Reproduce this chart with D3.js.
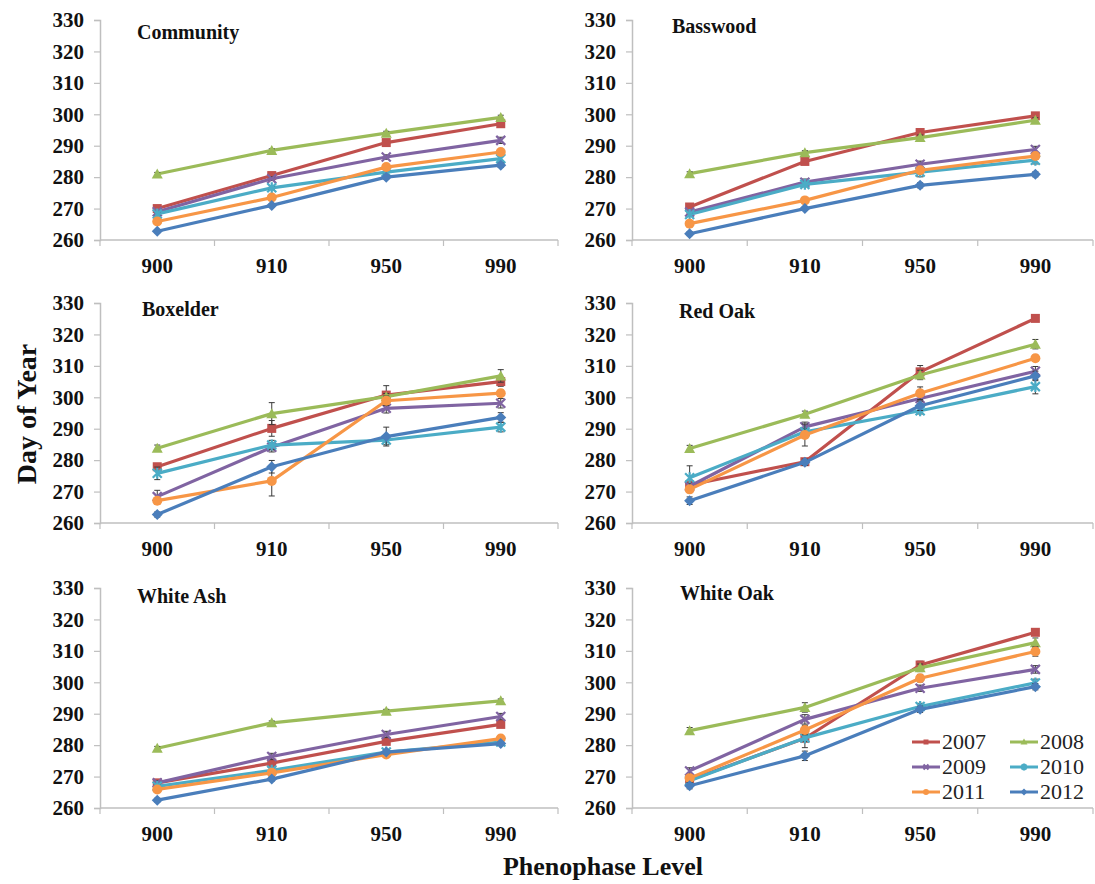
<!DOCTYPE html>
<html>
<head>
<meta charset="utf-8">
<script src="https://cdn.jsdelivr.net/npm/d3@7"></script>
<style>
  html, body { margin: 0; padding: 0; background: #fff; }
</style>
</head>
<body>
<svg id="chart" width="1095" height="884"></svg>
<script>
// Phenophase levels (x categories) and observation years (series)
const levels = ["900", "910", "950", "990"];
const years = ["2007", "2008", "2009", "2010", "2011", "2012"];
const yTicks = [260, 270, 280, 290, 300, 310, 320, 330];

// Mean day of year per year (rows follow `years`, columns follow `levels`)
const community = [
  [270.0, 280.5, 291.0, 297.0],
  [281.0, 288.5, 294.0, 299.0],
  [269.0, 279.5, 286.4, 291.7],
  [268.3, 276.6, 281.6, 285.9],
  [265.9, 273.5, 283.2, 288.0],
  [262.8, 271.0, 280.0, 283.8]
];
const basswood = [
  [270.5, 285.0, 294.2, 299.5],
  [281.1, 287.8, 292.6, 298.1],
  [268.9, 278.4, 284.1, 288.8],
  [268.1, 277.7, 281.6, 285.4],
  [265.2, 272.6, 282.2, 286.7],
  [262.0, 270.0, 277.4, 280.9]
];
const boxelder = [
  [277.9, 290.1, 300.7, 305.0],
  [283.8, 294.8, 300.2, 306.8],
  [268.4, 284.1, 296.5, 298.1],
  [275.8, 284.8, 286.4, 290.5],
  [267.1, 273.4, 298.9, 301.3],
  [262.7, 277.9, 287.5, 293.6]
];
const redOak = [
  [272.1, 279.5, 308.1, 325.1],
  [283.7, 294.6, 307.1, 316.9],
  [271.7, 290.6, 299.6, 308.3],
  [274.4, 289.0, 295.7, 303.4],
  [270.7, 288.0, 301.3, 312.4],
  [267.1, 279.3, 297.3, 306.8]
];
const whiteAsh = [
  [268.0, 274.3, 281.2, 286.6],
  [279.0, 287.1, 290.8, 294.1],
  [268.0, 276.4, 283.4, 289.1],
  [266.9, 272.0, 277.8, 281.0],
  [265.9, 271.2, 277.0, 282.1],
  [262.5, 269.2, 277.8, 280.5]
];
const whiteOak = [
  [268.9, 282.2, 305.5, 315.9],
  [284.6, 292.0, 304.6, 312.6],
  [271.8, 288.2, 298.1, 304.1],
  [268.7, 282.3, 292.3, 299.8],
  [269.5, 284.8, 301.3, 309.8],
  [267.1, 276.6, 291.4, 298.6]
];

// Standard errors (same layout as the means)
const communityErr = [
  [0.8, 0.6, 0.6, 0.8], [0.5, 0.5, 0.6, 0.7], [0.5, 0.6, 0.7, 1.0],
  [0.5, 0.6, 0.6, 0.8], [0.5, 0.6, 0.6, 0.8], [0.5, 0.5, 0.6, 0.7]
];
const basswoodErr = [
  [0.8, 0.8, 0.8, 0.8], [0.6, 0.6, 0.8, 0.8], [0.6, 1.0, 1.0, 1.0],
  [0.6, 0.8, 1.5, 1.2], [0.6, 0.8, 1.0, 1.0], [0.6, 0.6, 0.8, 0.8]
];
const boxelderErr = [
  [1.0, 2.5, 3.0, 1.5], [1.0, 3.5, 1.0, 2.0], [2.0, 1.5, 1.5, 1.5],
  [2.0, 1.5, 1.5, 1.5], [1.0, 4.8, 1.5, 1.0], [0.8, 2.0, 3.0, 1.5]
];
const redOakErr = [
  [1.0, 0.8, 2.0, 1.0], [1.0, 1.0, 1.5, 1.5], [1.0, 1.5, 1.5, 1.5],
  [3.8, 1.0, 1.0, 2.3], [1.0, 3.5, 2.0, 1.0], [1.2, 1.0, 1.5, 1.5]
];
const whiteAshErr = [
  [0.7, 0.7, 0.7, 1.0], [0.6, 0.6, 0.6, 0.6], [0.7, 1.0, 1.0, 1.0],
  [0.6, 0.6, 0.6, 0.6], [0.6, 0.6, 0.6, 0.6], [0.6, 0.6, 0.6, 0.6]
];
const whiteOakErr = [
  [1.0, 3.0, 1.2, 1.0], [1.0, 1.5, 1.2, 1.5], [1.0, 1.5, 1.0, 1.2],
  [1.0, 1.2, 1.0, 1.2], [1.0, 1.5, 1.2, 1.5], [1.0, 1.5, 1.0, 1.0]
];

const panels = [
  { title: "Community", means: community, errs: communityErr, col: 0, row: 0 },
  { title: "Basswood",  means: basswood,  errs: basswoodErr,  col: 1, row: 0 },
  { title: "Boxelder",  means: boxelder,  errs: boxelderErr,  col: 0, row: 1 },
  { title: "Red Oak",   means: redOak,    errs: redOakErr,    col: 1, row: 1 },
  { title: "White Ash", means: whiteAsh,  errs: whiteAshErr,  col: 0, row: 2 },
  { title: "White Oak", means: whiteOak,  errs: whiteOakErr,  col: 1, row: 2 }
];

const colors = ["#C0504D", "#9BBB59", "#8064A2", "#4BACC6", "#F79646", "#4A7EBB"];
const markers = ["square", "triangle", "x", "star", "circle", "diamond"];

// Layout of the 3x2 grid of plot areas
const colX = [[100, 558], [632, 1093]];
const rowY = [[20, 240], [303, 523], [588, 808]];
const titlePos = [[137, 39], [672, 33], [142, 316], [679, 318], [137, 603], [680, 600]];

const serif = "'Liberation Serif', 'Times New Roman', serif";
const svg = d3.select("#chart");
const axisColor = "#BFBFBF";

function drawMarker(g, type, cx, cy, color, s) {
  const h = s / 2;
  if (type === "square") {
    g.append("rect").attr("x", cx - h).attr("y", cy - h).attr("width", s).attr("height", s)
      .attr("fill", color);
  } else if (type === "triangle") {
    g.append("path").attr("d", `M${cx},${cy - h - 1}L${cx + h + 1},${cy + h}L${cx - h - 1},${cy + h}Z`)
      .attr("fill", color);
  } else if (type === "circle") {
    g.append("circle").attr("cx", cx).attr("cy", cy).attr("r", h + 0.5).attr("fill", color);
  } else if (type === "diamond") {
    g.append("path").attr("d", `M${cx},${cy - h - 1}L${cx + h + 1},${cy}L${cx},${cy + h + 1}L${cx - h - 1},${cy}Z`)
      .attr("fill", color);
  } else if (type === "x") {
    g.append("path").attr("d", `M${cx - h},${cy - h}L${cx + h},${cy + h}M${cx - h},${cy + h}L${cx + h},${cy - h}`)
      .attr("stroke", color).attr("stroke-width", 2.2).attr("fill", "none");
  } else if (type === "star") {
    g.append("path").attr("d", `M${cx - h},${cy - h}L${cx + h},${cy + h}M${cx - h},${cy + h}L${cx + h},${cy - h}M${cx},${cy - h - 1}L${cx},${cy + h + 1}`)
      .attr("stroke", color).attr("stroke-width", 2.2).attr("fill", "none");
  }
}

panels.forEach((p, pi) => {
  const [x0, x1] = colX[p.col];
  const [yTop, yBot] = rowY[p.row];

  const x = d3.scaleBand().domain(levels).range([x0, x1]);
  const y = d3.scaleLinear().domain([260, 330]).range([yBot, yTop]);

  const g = svg.append("g");

  // y axis
  const yAxis = d3.axisLeft(y).tickValues(yTicks).tickSize(6).tickPadding(10).tickFormat(d3.format("d"));
  const ya = g.append("g").attr("transform", `translate(${x0},0)`).call(yAxis);
  ya.attr("font-family", null).attr("font-size", null);
  ya.select(".domain").attr("stroke", axisColor).attr("stroke-width", 1.5);
  ya.selectAll(".tick line").attr("stroke", axisColor).attr("stroke-width", 1.2);
  ya.selectAll(".tick text")
    .attr("font-family", serif).attr("font-weight", "bold")
    .attr("font-size", 21).attr("fill", "#111");

  // x axis: tick marks at category boundaries, labels centred in each band
  const xa = g.append("g").attr("transform", `translate(0,${yBot})`);
  xa.append("line").attr("x1", x0).attr("x2", x1).attr("stroke", axisColor).attr("stroke-width", 1.5);
  const bounds = levels.map(l => x(l)).concat([x1]);
  xa.selectAll("line.b").data(bounds).join("line").attr("class", "b")
    .attr("x1", d => d).attr("x2", d => d).attr("y1", 0).attr("y2", 6)
    .attr("stroke", axisColor).attr("stroke-width", 1.2);
  xa.selectAll("text").data(levels).join("text")
    .attr("x", d => x(d) + x.bandwidth() / 2).attr("y", 33)
    .attr("text-anchor", "middle")
    .attr("font-family", serif).attr("font-weight", "bold")
    .attr("font-size", 21).attr("fill", "#111")
    .text(d => d);

  // panel title
  g.append("text").attr("x", titlePos[pi][0]).attr("y", titlePos[pi][1])
    .attr("font-family", serif).attr("font-weight", "bold")
    .attr("font-size", 20).attr("fill", "#111").text(p.title);

  const cx = l => x(l) + x.bandwidth() / 2;
  const line = d3.line().x((d, i) => cx(levels[i])).y(d => y(d));

  p.means.forEach((series, si) => {
    const sg = g.append("g");
    sg.append("path").datum(series).attr("d", line)
      .attr("fill", "none").attr("stroke", colors[si]).attr("stroke-width", 3.2)
      .attr("stroke-linejoin", "round");
    // error bars
    series.forEach((v, i) => {
      const e = p.errs[si][i];
      const xx = cx(levels[i]);
      sg.append("path")
        .attr("d", `M${xx},${y(v - e)}L${xx},${y(v + e)}M${xx - 3},${y(v - e)}L${xx + 3},${y(v - e)}M${xx - 3},${y(v + e)}L${xx + 3},${y(v + e)}`)
        .attr("stroke", "#3a3a3a").attr("stroke-width", 1).attr("fill", "none");
    });
    series.forEach((v, i) => drawMarker(sg, markers[si], cx(levels[i]), y(v), colors[si], 9));
  });
});

// Legend inside the White Oak panel
const legend = svg.append("g");
const legCols = [912, 1010];
const legRows = [742, 767, 792];
years.forEach((yr, i) => {
  const lx = legCols[i % 2];
  const ly = legRows[Math.floor(i / 2)];
  legend.append("line").attr("x1", lx).attr("x2", lx + 28).attr("y1", ly).attr("y2", ly)
    .attr("stroke", colors[i]).attr("stroke-width", 3);
  drawMarker(legend, markers[i], lx + 14, ly, colors[i], 5);
  legend.append("text").attr("x", lx + 30).attr("y", ly + 7)
    .attr("font-family", serif).attr("font-size", 22).attr("fill", "#222")
    .text(yr);
});

// Shared axis titles
svg.append("text")
  .attr("transform", "translate(36,414) rotate(-90)")
  .attr("text-anchor", "middle")
  .attr("font-family", serif).attr("font-weight", "bold")
  .attr("font-size", 28).attr("fill", "#111")
  .text("Day of Year");

svg.append("text")
  .attr("x", 603).attr("y", 875)
  .attr("text-anchor", "middle")
  .attr("font-family", serif).attr("font-weight", "bold")
  .attr("font-size", 26).attr("fill", "#111")
  .text("Phenophase Level");
</script>
</body>
</html>
